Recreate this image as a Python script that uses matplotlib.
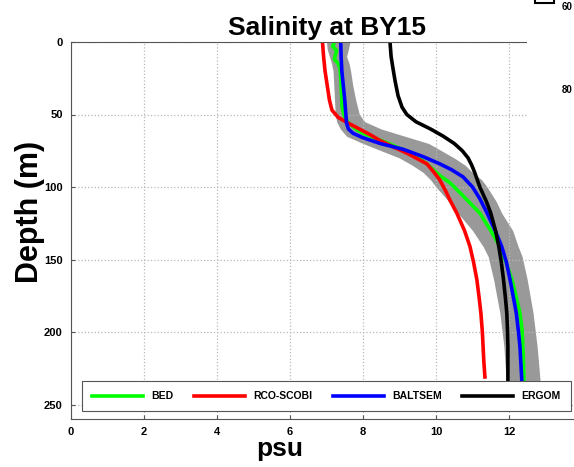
import numpy as np
import matplotlib
matplotlib.use('Agg')
import matplotlib.pyplot as plt
from matplotlib.patches import Rectangle

plt.rcParams['font.family'] = ['Liberation Sans', 'DejaVu Sans']

# model salinity profiles (psu) against depth (m)
bed_depth = [0, 3, 6, 9, 12, 15, 18, 25, 35, 45, 52, 56, 60, 63, 66, 70, 75, 79, 84, 88,
             93, 97, 105, 118, 130, 141, 152, 164, 176, 187, 199, 215, 233, 250]
bed_sal = [7.22, 7.17, 7.28, 7.24, 7.22, 7.32, 7.37, 7.39, 7.41, 7.43, 7.5, 7.62, 7.8, 8.0,
           8.3, 8.7, 9.15, 9.47, 9.75, 9.92, 10.15, 10.38, 10.7, 11.2, 11.5, 11.75, 11.92,
           12.08, 12.2, 12.3, 12.36, 12.39, 12.41, 12.42]

rco_depth = [0, 10, 20, 30, 40, 47, 52, 56, 60, 64, 68, 72, 77, 84, 90, 95, 102, 110, 118,
             130, 141, 152, 164, 176, 187, 200, 210, 220, 231]
rco_sal = [6.89, 6.92, 6.96, 7.02, 7.08, 7.15, 7.32, 7.6, 7.9, 8.2, 8.47, 8.8, 9.23, 9.75,
           9.95, 10.1, 10.25, 10.4, 10.57, 10.78, 10.93, 11.03, 11.12, 11.18, 11.23, 11.27,
           11.29, 11.31, 11.34]

baltsem_depth = [0, 10, 20, 30, 40, 50, 56, 60, 63, 66, 70, 74, 79, 84, 88, 93, 100, 108,
                 118, 130, 141, 152, 164, 176, 187, 200, 210, 233, 250]
baltsem_sal = [7.39, 7.4, 7.42, 7.46, 7.5, 7.53, 7.55, 7.6, 7.73, 8.0, 8.47, 9.1, 9.64, 10.1,
               10.42, 10.74, 11.0, 11.2, 11.4, 11.62, 11.8, 11.93, 12.03, 12.12, 12.2, 12.26,
               12.3, 12.35, 12.37]

ergom_depth = [0, 10, 18, 27, 37, 45, 50, 55, 60, 65, 70, 75, 80, 85, 90, 100, 110, 118, 130,
               141, 152, 164, 176, 187, 200, 210, 233, 250]
ergom_sal = [8.74, 8.77, 8.82, 8.88, 8.96, 9.07, 9.2, 9.45, 9.85, 10.2, 10.5, 10.72, 10.88,
             10.98, 11.06, 11.2, 11.38, 11.5, 11.63, 11.72, 11.79, 11.85, 11.9, 11.94, 11.96,
             11.97, 11.97, 11.97]

# observed range (grey envelope)
band_depth = [0, 5, 10, 15, 20, 30, 40, 50, 55, 60, 65, 70, 75, 80, 85, 90, 95, 100, 110, 118,
              130, 141, 148, 164, 187, 210, 233, 250]
band_lo = [7.0, 7.02, 7.08, 7.14, 7.18, 7.2, 7.22, 7.24, 7.28, 7.38, 7.55, 8.0, 8.5, 9.0, 9.35,
           9.65, 9.85, 10.0, 10.35, 10.6, 11.0, 11.29, 11.43, 11.58, 11.75, 11.86, 11.92, 11.93]
band_hi = [7.64, 7.6, 7.55, 7.62, 7.66, 7.72, 7.8, 7.9, 8.05, 8.5, 9.15, 9.8, 10.15, 10.5, 10.8,
           11.0, 11.25, 11.4, 11.65, 11.8, 12.1, 12.25, 12.36, 12.5, 12.66, 12.77, 12.85, 12.88]

W, H = 574, 467
fig = plt.figure(figsize=(W / 100, H / 100), dpi=100)
ax = fig.add_axes([71 / W, 1 - 419 / H, 511 / W, 377 / H])

ax.fill_betweenx(band_depth, band_lo, band_hi, color='#999999', lw=0, zorder=1)
ax.plot(bed_sal, bed_depth, color=(0, 1, 0), lw=2.6, label='BED', zorder=2)
ax.plot(rco_sal, rco_depth, color=(1, 0, 0), lw=2.6, label='RCO-SCOBI', zorder=2)
ax.plot(baltsem_sal, baltsem_depth, color=(0, 0, 1), lw=2.6, label='BALTSEM', zorder=2)
ax.plot(ergom_sal, ergom_depth, color='black', lw=2.6, label='ERGOM', zorder=2)

ax.set_xlim(0, 14)
ax.set_ylim(260, 0)
ax.set_xticks(np.arange(0, 13, 2))
ax.set_yticks(np.arange(0, 251, 50))
ax.grid(True, linestyle=':', color='#b8b8b8', lw=0.9)
ax.tick_params(direction='in', length=3, labelsize=8, color='#555555', pad=6)
for lab in ax.get_xticklabels() + ax.get_yticklabels():
    lab.set_fontweight('bold')
for s in ax.spines.values():
    s.set_color('#555555')
ax.spines['right'].set_visible(False)

ax.set_title('Salinity at BY15', fontsize=19, fontweight='bold', pad=5)
fig.text(30 / W, 1 - 212 / H, 'Depth (m)', rotation=90, ha='center', va='center',
         fontsize=22, fontweight='bold')
fig.text(280 / W, 1 - 449 / H, 'psu', ha='center', va='center', fontsize=19, fontweight='bold')

leg = ax.legend(ncol=4, loc='lower left', mode='expand',
                bbox_to_anchor=(0.0215, 0.021, 0.9565, 0.075),
                prop={'weight': 'bold', 'size': 7.5}, handlelength=4.9,
                borderpad=0.95, fancybox=False, framealpha=1, borderaxespad=0)
leg.get_frame().set_edgecolor('#555555')
leg.get_frame().set_linewidth(0.8)

# neighbouring panel overlapping the top-right corner
fig.patches.append(Rectangle((527 / W, 1 - 150 / H), 1, 150 / H, transform=fig.transFigure,
                             facecolor='white', edgecolor='none', zorder=5))
fig.patches.append(Rectangle((535 / W, 1 - 3 / H), 19 / W, 10 / H, transform=fig.transFigure,
                             facecolor='white', edgecolor='black', lw=1.5, zorder=6))
fig.text(572 / W, 1 - 7 / H, '60', fontsize=7, fontweight='bold', ha='right', va='center',
         zorder=7)
fig.text(572 / W, 1 - 90 / H, '80', fontsize=7, fontweight='bold', ha='right', va='center',
         zorder=7)

fig.savefig('out.png', dpi=100)
